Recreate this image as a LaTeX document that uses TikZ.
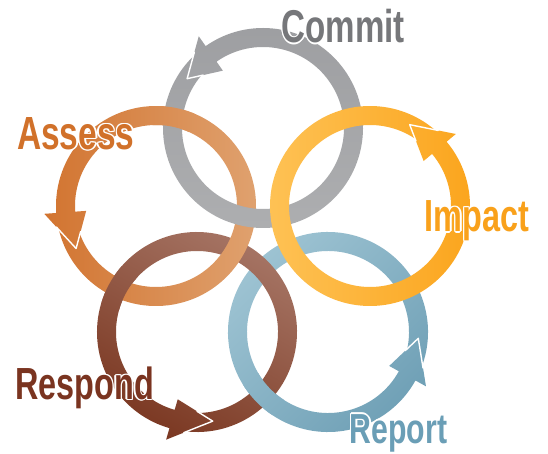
\documentclass[tikz,border=0pt]{standalone}
\usepackage{fontspec}
\usetikzlibrary{calc}
\newfontfamily\lblfont{Liberation Sans}[FakeStretch=0.72]

\definecolor{grayA}{HTML}{9D9EA1}
\definecolor{grayB}{HTML}{AEAFB1}
\definecolor{orD}{HTML}{D27430}
\definecolor{orM}{HTML}{DD9964}
\definecolor{orL}{HTML}{E0A371}
\definecolor{yeL}{HTML}{FEC357}
\definecolor{yeM}{HTML}{FEBA48}
\definecolor{yeD}{HTML}{FBA41B}
\definecolor{brL}{HTML}{A67565}
\definecolor{brM}{HTML}{A06B5A}
\definecolor{brD}{HTML}{7B3822}
\definecolor{blL}{HTML}{A0C5D4}
\definecolor{blM}{HTML}{97BDCD}
\definecolor{blD}{HTML}{6E9FB5}
\definecolor{txCommit}{HTML}{76777A}
\definecolor{txAssess}{HTML}{D1712A}
\definecolor{txImpact}{HTML}{F9A11B}
\definecolor{txRespond}{HTML}{7A3420}
\definecolor{txReport}{HTML}{6A9EB6}

\newlength\hw \setlength\hw{1.4pt}
\newcommand\halo[2]{%
  \setbox0=\hbox{#2}%
  \leavevmode
  \rlap{\color{white}\kern\hw\copy0}%
  \rlap{\color{white}\kern-\hw\copy0}%
  \rlap{\color{white}\raise\hw\copy0}%
  \rlap{\color{white}\lower\hw\copy0}%
  \rlap{\color{white}\kern.7\hw\raise.7\hw\copy0}%
  \rlap{\color{white}\kern-.7\hw\raise.7\hw\copy0}%
  \rlap{\color{white}\kern.7\hw\lower.7\hw\copy0}%
  \rlap{\color{white}\kern-.7\hw\lower.7\hw\copy0}%
  \textcolor{#1}{\copy0}}

\tikzset{
  lbl/.style={anchor=base west, inner sep=0pt},
  tipline/.style={draw=white, line width=1.4pt, line join=round, line cap=round},
  graysh/.style={top color=grayA, bottom color=grayB},
  orsh/.style={left color=orD, middle color=orM, right color=orL},
  yesh/.style={left color=yeL, middle color=yeM, right color=yeD},
  brsh/.style={top color=brL, middle color=brM, bottom color=brD, shading angle=-30},
  blsh/.style={top color=blL, middle color=blM, bottom color=blD, shading angle=45},
}

% #1 centre, #2 tip angle, #3 base angle, #4 shading style
\newcommand\ringshape[4]{%
  \pgfmathsetmacro\rgTail{#2-18}%
  \pgfmathsetmacro\rgBase{#3+360}%
  \shade[#4] ([shift={(#1)}]\rgTail:100) arc[start angle=\rgTail, end angle=\rgBase, radius=100pt]
    -- ([shift={(#1)}]#3:112) -- ([shift={(#1)}]#2:90.5) -- ([shift={(#1)}]#3:70)
    -- ([shift={(#1)}]#3:81) arc[start angle=\rgBase, end angle=\rgTail, radius=81pt] -- cycle;
}
\newcommand\tipline[3]{%
  \path ([shift={(#1)}]#3:112) coordinate (#1-bo)
        ([shift={(#1)}]#2:90.5) coordinate (#1-tp)
        ([shift={(#1)}]#3:70) coordinate (#1-bi);
  \draw[tipline] ($(#1-bo)!0.38!(#1-tp)$) -- (#1-tp) -- ($(#1-bi)!0.55!(#1-tp)$);
}

\begin{document}
\begin{tikzpicture}[x=1pt,y=1pt]
\useasboundingbox (0,0) rectangle (548,453);
\fill[white] (0,0) rectangle (548,453);

\coordinate (cg) at (263,325);
\coordinate (co) at (156,247);
\coordinate (cy) at (370,247);
\coordinate (cb) at (197,121);
\coordinate (cl) at (328,121);

% rings, bottom to top
\ringshape{cl}{356}{331}{blsh}\tipline{cl}{356}{331}
\ringshape{cb}{280}{254}{brsh}\tipline{cb}{280}{254}
\ringshape{co}{208}{184}{orsh}\tipline{co}{208}{184}
\ringshape{cg}{147}{125}{graysh}\tipline{cg}{147}{125}
\ringshape{cy}{64}{40}{yesh}\tipline{cy}{64}{40}

% interlocking crossings
\begin{scope}
  \clip (173,336) circle[radius=22pt];
  \ringshape{co}{208}{184}{orsh}
\end{scope}
\begin{scope}
  \clip (118,165) circle[radius=22pt];
  \ringshape{cb}{280}{254}{brsh}
\end{scope}
\begin{scope}
  \clip (262.5,58.6) circle[radius=22pt];
  \ringshape{cl}{356}{331}{blsh}
\end{scope}

% labels
\node[lbl, font={\lblfont\bfseries\fontsize{46}{46}\selectfont}] (commit) at (281.5,410) {\halo{txCommit}{Commit}};
\node[lbl, font={\lblfont\bfseries\fontsize{46.5}{46}\selectfont}] (assess) at (17,303.5) {\halo{txAssess}{Assess}};
\node[lbl, font={\lblfont\bfseries\fontsize{45}{45}\selectfont}] (impact) at (424.5,221.3) {\halo{txImpact}{Impact}};
\node[lbl, font={\lblfont\bfseries\fontsize{45}{45}\selectfont}] (respond) at (15,53.5) {\halo{txRespond}{Respond}};
\node[lbl, font={\lblfont\bfseries\fontsize{42}{42}\selectfont}] (report) at (349.5,9.7) {\halo{txReport}{Report}};
\end{tikzpicture}
\end{document}
